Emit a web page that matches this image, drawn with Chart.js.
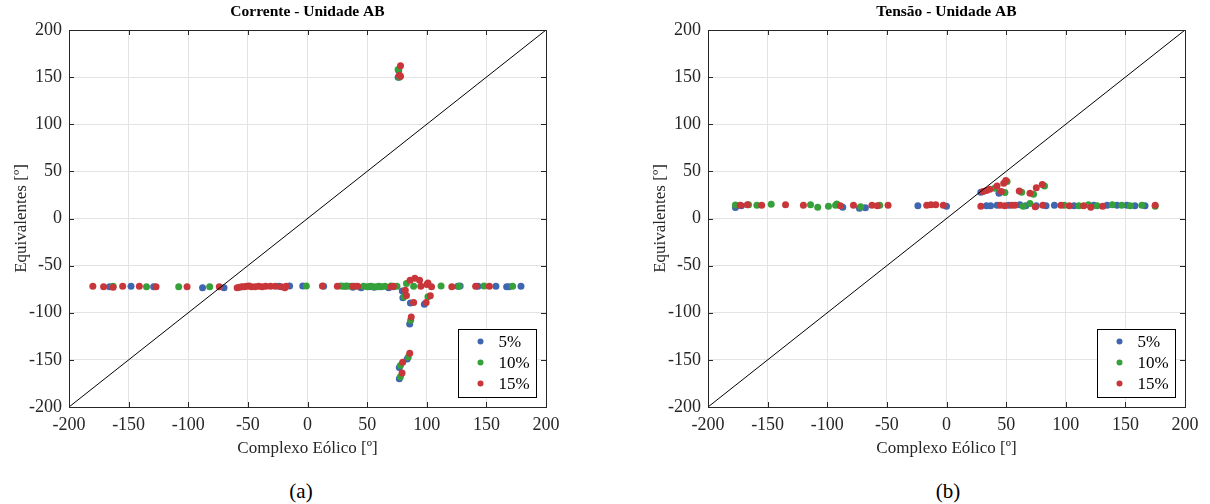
<!DOCTYPE html>
<html>
<head>
<meta charset="utf-8">
<script src="https://cdn.jsdelivr.net/npm/chart.js@4/dist/chart.umd.min.js"></script>
<style>
  body { margin: 0; background: #fff; }
  #wrap { position: relative; width: 1210px; height: 504px; overflow: hidden; }
  canvas { position: absolute; top: 0; }
  .cap { position: absolute; font-family: "Liberation Serif", serif; font-size: 21px; color: #000; transform: translateX(-50%); }
</style>
</head>
<body>
<div id="wrap">
  <canvas id="chartA" width="600" height="470" style="left:0"></canvas>
  <canvas id="chartB" width="600" height="470" style="left:639px"></canvas>
  <div class="cap" style="left:301px; top:479px">(a)</div>
  <div class="cap" style="left:948px; top:479px">(b)</div>
</div>
<script>
const seriesLabels = ['5%', '10%', '15%'];
const seriesColors = ['#3f66b0', '#36a13a', '#c8363a'];
const axisTicks = [-200, -150, -100, -50, 0, 50, 100, 150, 200];

// Corrente - pares [Complexo Eólico, Equivalentes]
const corrente5 = [
  [-166, -72.5], [-148, -72], [-129, -72.5], [-88, -73.5], [-70, -73.5], [-24, -72], [-15, -71.5],
  [-4, -71.5], [13.5, -72], [32, -72], [38, -73], [45, -73.5], [52, -72.5], [56, -73], [60, -72.5],
  [68, -73.5], [72, -72.5], [126, -72], [128, -71.5], [143, -72], [158, -72], [167, -72.5],
  [169, -72.5], [179, -72],
  [76, 150], [76.5, 157], [79.5, -77], [80, -84], [86.3, -89.7], [98, -91], [85.7, -112],
  [83.6, -149], [77, -158], [77, -170]
];
const corrente10 = [
  [-163, -72], [-135, -72.5], [-108, -72.5], [-82, -72.5], [-1, -71.5], [28, -71.5], [30, -72],
  [33, -71.5], [36, -72], [40, -72], [47, -72], [50, -72.5], [53, -72], [55, -72.5], [58, -72.5],
  [60, -72], [62, -72.5], [65, -72], [70, -71.5], [75, -72], [89, -72], [112, -71.5], [127, -72],
  [148, -71.5], [172, -72],
  [76, 158], [77, 150], [81, -83], [83, -69], [101, -83], [86.5, -108], [84.5, -147],
  [77.9, -156], [77.9, -168]
];
const corrente15 = [
  [-180, -72], [-171, -72.5], [-163, -73], [-155, -72], [-141, -72], [-127, -72.5], [-101, -72.5],
  [-74, -72.5], [-59, -73.5], [-57, -73], [-55, -72.5], [-53, -72.5], [-51, -72], [-49, -71.5],
  [-47, -72.5], [-44, -72.5], [-41, -72], [-38, -72.5], [-35, -72], [-31, -72], [-27, -72],
  [-22, -72.5], [-19, -73.5], [-18, -72], [12.5, -71.5], [25, -72], [38, -72], [42, -72],
  [70, -72.5], [72, -72], [95, -72], [100, -70], [104, -72.5], [121, -72.5], [141, -72], [152.5, -72],
  [78, 162], [78, 151], [77, 152], [86, -65.6], [90, -63.5], [94, -65.6], [101, -68.4], [82, -76],
  [83, -81.6], [89, -89], [99.5, -89], [103, -82], [87, -104.6], [85.7, -143], [79.8, -152.5],
  [79.3, -164]
];

// Tensão - pares [Complexo Eólico, Equivalentes]
const tensao5 = [
  [-177, 11.8], [-172, 13.5], [-87, 12], [-73, 11], [-68, 11.5], [-24, 13.5], [0, 13], [33.5, 13.5],
  [37, 13.5], [42.4, 14], [52, 14], [61.5, 14.5], [66.5, 13.5], [75.3, 13.5], [83.5, 13.5],
  [90.5, 14], [107, 13.5], [123.5, 14], [134.7, 14], [143, 14], [151.3, 14], [158, 13.5], [166.5, 13.5],
  [28.8, 27.9], [44, 26.8]
];
const tensao10 = [
  [-177, 14.3], [-166, 14.5], [-159, 14], [-147, 15], [-114, 14.5], [-108, 12], [-99, 13], [-93, 14],
  [-92, 15.5], [-72, 12.5], [-56, 14], [64.3, 13], [70, 16], [98.8, 14], [111, 13.5], [119, 14.5],
  [126.3, 13.5], [139, 14.5], [147, 14], [154, 13.5], [163.8, 14], [175, 13],
  [40.5, 32], [50.8, 39.3], [49, 27.5], [63, 27.9], [73, 25.7], [82.2, 34.6]
];
const tensao15 = [
  [-173, 14], [-167, 14.5], [-155, 14], [-135, 14.5], [-120, 14], [-89, 13.5], [-78, 14], [-62.5, 14],
  [-58, 13.5], [-49, 14], [-16.6, 14], [-13, 14.5], [-9, 14.5], [-2.7, 14], [28.8, 13], [45, 14],
  [48.8, 13.5], [54.6, 14], [57.4, 14], [74.4, 12.5], [80.8, 14], [96, 14], [103, 13.5], [115, 13.5],
  [121, 12], [131, 13], [175, 14],
  [30.7, 28.6], [33.5, 29.6], [36.3, 31], [42.4, 34.6], [46, 28.6], [48, 37.5], [49.7, 40.4],
  [61, 29.3], [70, 26.8], [75.3, 32.5], [80.3, 36]
];

const serif = '"Liberation Serif", "Times New Roman", serif';
const textColor = '#262626';

// moldura, marcas internas, título e legenda no estilo MATLAB
const framePlugin = {
  id: 'frame',
  afterDatasetsDraw(chart) {
    const { ctx, chartArea: a, scales: { x, y } } = chart;
    ctx.save();
    ctx.strokeStyle = textColor;
    ctx.lineWidth = 1;
    ctx.beginPath();
    axisTicks.forEach(v => {
      const px = Math.round(x.getPixelForValue(v)) + 0.5;
      ctx.moveTo(px, a.bottom); ctx.lineTo(px, a.bottom - 5);
      ctx.moveTo(px, a.top); ctx.lineTo(px, a.top + 5);
      const py = Math.round(y.getPixelForValue(v)) + 0.5;
      ctx.moveTo(a.left, py); ctx.lineTo(a.left + 5, py);
      ctx.moveTo(a.right, py); ctx.lineTo(a.right - 5, py);
    });
    ctx.stroke();
    ctx.strokeRect(Math.round(a.left) + 0.5, Math.round(a.top) + 0.5, Math.round(a.width), Math.round(a.height));
    ctx.restore();
  },
  afterDraw(chart, args, opts) {
    const { ctx, chartArea: a } = chart;
    ctx.save();
    ctx.fillStyle = '#000';
    ctx.font = 'bold 15.5px ' + serif;
    ctx.textAlign = 'center';
    ctx.textBaseline = 'middle';
    ctx.fillText(opts.title, (a.left + a.right) / 2, 12);

    const bx = Math.round(a.right) - 87.5, by = Math.round(a.bottom) - 77.5;
    ctx.fillStyle = '#fff';
    ctx.fillRect(bx, by, 78, 68);
    ctx.strokeStyle = '#000';
    ctx.lineWidth = 1;
    ctx.strokeRect(bx, by, 78, 68);
    ctx.font = '17px ' + serif;
    ctx.textAlign = 'left';
    chart.data.datasets.filter(d => d.type !== 'line').forEach((d, i) => {
      const cy = by + 12 + i * 21;
      ctx.fillStyle = d.backgroundColor;
      ctx.beginPath();
      ctx.arc(bx + 22, cy, 3, 0, Math.PI * 2);
      ctx.fill();
      ctx.fillStyle = '#000';
      ctx.fillText(d.label, bx + 40, cy + 1);
    });
    ctx.restore();
  }
};

function toPoints(pairs) {
  return pairs.map(p => ({ x: p[0], y: p[1] }));
}

function axis(titleText) {
  return {
    type: 'linear',
    min: -200,
    max: 200,
    afterBuildTicks: s => { s.ticks = axisTicks.map(v => ({ value: v })); },
    grid: { color: '#e3e3e3', lineWidth: 1, tickLength: 0, drawTicks: false },
    border: { display: false },
    ticks: { color: textColor, font: { family: serif, size: 18 }, padding: 7 },
    title: { display: true, text: titleText, color: textColor, font: { family: serif, size: 17 } }
  };
}

function makeChart(id, titleText, groups) {
  const datasets = groups.map((g, i) => ({
    label: seriesLabels[i],
    data: toPoints(g),
    backgroundColor: seriesColors[i],
    borderWidth: 0,
    pointRadius: 3.5,
    order: 3 - i
  }));
  datasets.push({
    type: 'line',
    label: 'diagonal',
    data: [{ x: -200, y: -200 }, { x: 200, y: 200 }],
    borderColor: '#000',
    borderWidth: 1,
    pointRadius: 0,
    order: 0
  });

  const xs = axis('Complexo Eólico [º]');
  xs.afterFit = s => { s.height = 52; };
  xs.title.padding = { top: 0, bottom: 0 };
  const ys = axis('Equivalentes [º]');
  ys.afterFit = s => { s.width = 69; };
  ys.title.padding = { top: 11, bottom: 4 };

  return new Chart(document.getElementById(id), {
    type: 'scatter',
    data: { datasets: datasets },
    options: {
      responsive: false,
      animation: false,
      devicePixelRatio: 1,
      layout: { padding: { left: 0, right: 54, top: 30, bottom: 11 } },
      scales: { x: xs, y: ys },
      plugins: {
        legend: { display: false },
        tooltip: { enabled: false },
        frame: { title: titleText }
      }
    },
    plugins: [framePlugin]
  });
}

makeChart('chartA', 'Corrente - Unidade AB', [corrente5, corrente10, corrente15]);
makeChart('chartB', 'Tensão - Unidade AB', [tensao5, tensao10, tensao15]);
</script>
</body>
</html>
